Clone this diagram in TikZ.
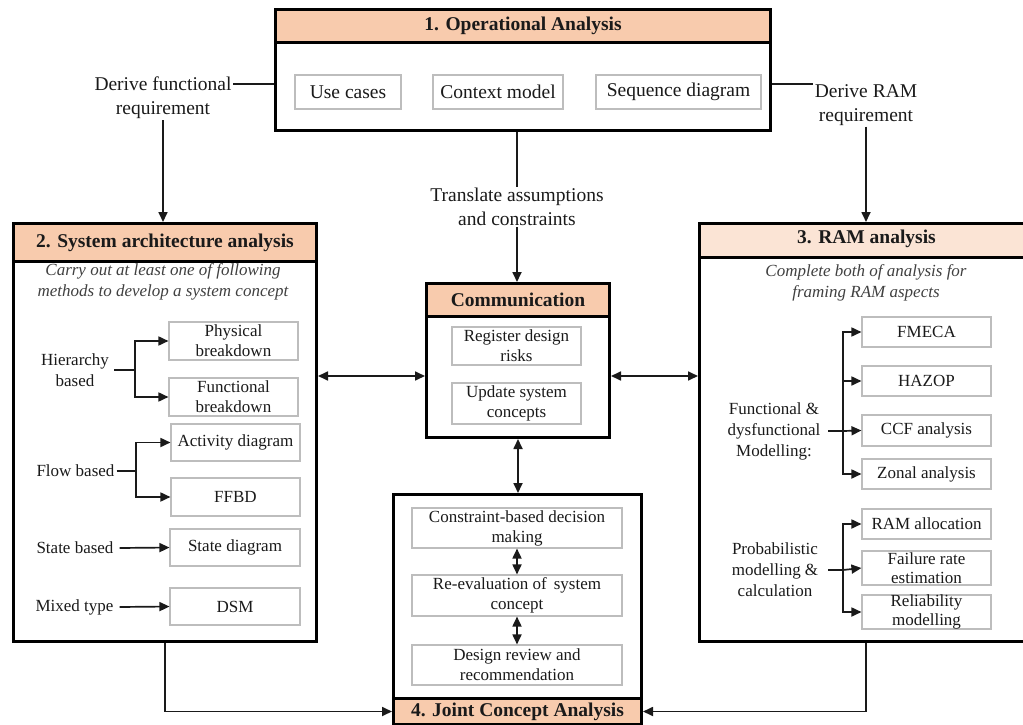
\documentclass[tikz,border=0pt]{standalone}
\usepackage{fontspec}
\setmainfont{Liberation Serif}
\usetikzlibrary{arrows.meta,calc}
\definecolor{peach}{HTML}{F8CBAD}
\definecolor{lpeach}{HTML}{FBE4D5}
\definecolor{ibord}{HTML}{BDBDBD}
\definecolor{txt}{HTML}{1A1A1A}
\begin{document}
\begin{tikzpicture}[x=1pt,y=-1pt,
  outer/.style={draw, line width=3pt, rectangle, inner sep=0pt, anchor=north west},
  hdr/.style={draw, line width=3pt, fill=peach, rectangle, inner sep=0pt, anchor=north west, text=txt, font=\bfseries\fontsize{19.5}{23}\selectfont},
  ibox/.style={draw=ibord, line width=1.1pt, fill=white, rectangle, align=center, inner sep=0pt, text=txt, font=\fontsize{17}{20}\selectfont},
  tbox/.style={ibox, font=\fontsize{19.5}{23}\selectfont},
  lbl/.style={align=center, inner xsep=5pt, inner ysep=0pt, text=txt, font=\fontsize{17}{21}\selectfont},
  biglbl/.style={align=center, inner sep=1pt, text=txt, font=\fontsize{19.5}{24}\selectfont},
  itl/.style={align=center, inner sep=0pt, text=black!75, font=\itshape\fontsize{17}{21}\selectfont},
  ln/.style={line width=1.7pt, draw=txt},
  arr/.style={ln, -{Triangle[length=10pt,width=9pt]}},
  darr/.style={ln, {Triangle[length=10pt,width=9pt]}-{Triangle[length=10pt,width=9pt]}}
]
\useasboundingbox (0,0) rectangle (1023,725);
\clip (0,0) rectangle (1023,725);

% ---------- 1. Operational Analysis ----------
\node[outer, minimum width=495pt, minimum height=121pt] (op) at (274,8) {};
\node[hdr, minimum width=495pt, minimum height=33pt] (opH) at (274,8) {1. Operational Analysis};
\node[tbox, minimum width=106pt, minimum height=34pt] (uc) at (348,92) {Use cases};
\node[tbox, minimum width=130pt, minimum height=34pt] (cm) at (498,92) {Context model};
\node[tbox, minimum width=165pt, minimum height=34pt] (sqd) at (678.5,92) {Sequence diagram};

% ---------- labels between boxes ----------
\node[biglbl] (dfr) at (163,98) {Derive functional\\requirement};
\node[biglbl] (dram) at (866,105) {Derive RAM\\requirement};
\node[biglbl] (tac) at (517,207) {Translate assumptions\\and constraints};
\coordinate (dfE) at (233,84);
\coordinate (drE) at (813,84);

% ---------- 2. System architecture analysis ----------
\node[outer, minimum width=303pt, minimum height=418pt] (sa) at (12,222) {};
\node[hdr, minimum width=303pt, minimum height=38pt] (saH) at (12,222) {2. System architecture analysis};
\node[itl] (saI) at (163,282) {Carry out at least one of following\\methods to develop a system concept};
\node[ibox, minimum width=129pt, minimum height=38pt] (pb) at (233.5,341) {Physical\\breakdown};
\node[ibox, minimum width=129pt, minimum height=38pt] (fb) at (233.5,397) {Functional\\breakdown};
\node[ibox, minimum width=129pt, minimum height=37pt] (ad) at (235.5,442.5) {Activity diagram};
\node[ibox, minimum width=129pt, minimum height=38pt] (ffbd) at (235.5,497) {FFBD};
\node[ibox, minimum width=130pt, minimum height=37pt] (sd) at (235,547.5) {State diagram};
\node[ibox, minimum width=130pt, minimum height=37pt] (dsm) at (235,606.5) {DSM};
\node[lbl] (hb) at (75,370) {Hierarchy\\based};
\node[lbl, inner xsep=2pt] (flb) at (75.5,471) {Flow based};
\node[lbl, inner xsep=6pt] (stb) at (75,548) {State based};
\node[lbl, inner xsep=6pt] (mxt) at (74.5,607) {Mixed type};
\coordinate (hbj) at (135,370);
\coordinate (flj) at (136,471);

% ---------- Communication ----------
\node[outer, minimum width=183pt, minimum height=154pt] (cm2) at (425,282) {};
\node[hdr, minimum width=183pt, minimum height=33pt] (cmH) at (425,282) {Communication};
\node[ibox, minimum width=129pt, minimum height=38pt] (rdr) at (516.5,346) {Register design\\risks};
\node[ibox, minimum width=129pt, minimum height=41pt] (usc) at (516.5,403.5) {Update system\\concepts};
\coordinate (cmid) at (517,376);

% ---------- 4. Joint Concept Analysis ----------
\node[outer, minimum width=248pt, minimum height=230pt] (jc) at (392,493) {};
\node[hdr, minimum width=248pt, minimum height=26pt] (jcH) at (392,697) {4. Joint Concept Analysis};
\node[ibox, minimum width=210pt, minimum height=40pt] (cbd) at (517,528) {Constraint-based decision\\making};
\node[ibox, minimum width=210pt, minimum height=41pt] (rev) at (517,595.5) {Re-evaluation of\, system\\concept};
\node[ibox, minimum width=210pt, minimum height=40pt] (drr) at (517,665) {Design review and\\recommendation};

% ---------- 3. RAM analysis ----------
\node[outer, minimum width=336pt, minimum height=418pt] (ram) at (698,222) {};
\node[hdr, fill=lpeach, minimum width=336pt, minimum height=34pt] (ramH) at (698,222) {\hspace*{0pt}};
\node[text=txt, font=\bfseries\fontsize{19.5}{23}\selectfont] (ramT) at (866.5,239) {3. RAM analysis};
\node[itl] (ramI) at (866,283) {Complete both of analysis for\\framing RAM aspects};
\node[ibox, minimum width=129pt, minimum height=30pt] (fmeca) at (926.5,332) {FMECA};
\node[ibox, minimum width=129pt, minimum height=30pt] (hazop) at (926.5,381) {HAZOP};
\node[ibox, minimum width=129pt, minimum height=31pt] (ccf) at (926.5,430.5) {CCF analysis};
\node[ibox, minimum width=129pt, minimum height=30pt] (zon) at (926.5,474) {Zonal analysis};
\node[ibox, minimum width=129pt, minimum height=30pt] (rama) at (926.5,524) {RAM allocation};
\node[ibox, minimum width=129pt, minimum height=34pt, font=\fontsize{17}{18.5}\selectfont] (fre) at (926.5,568) {Failure rate\\estimation};
\node[ibox, minimum width=129pt, minimum height=34pt, font=\fontsize{17}{18.5}\selectfont] (relm) at (926.5,612) {Reliability\\modelling};
\node[lbl, inner xsep=0pt] (fdm) at (774,431) {Functional \&\\dysfunctional\\Modelling:};
\node[lbl, inner xsep=0pt] (pmc) at (775,570) {Probabilistic\\modelling \&\\calculation};
\coordinate (fdS) at (828,431);
\coordinate (fdj) at (843,431);
\coordinate (pmS) at (828,570);
\coordinate (pmj) at (843,570);

% ---------- connectors ----------
\draw[ln] (op.west |- dfE) -- (dfE);
\draw[arr] (dfr.south) -- (dfr.south |- sa.north);
\draw[ln] (op.east |- drE) -- (drE);
\draw[arr] (dram.south) -- (dram.south |- ram.north);
\draw[ln] (tac.north |- op.south) -- (tac.north);
\draw[arr] (tac.south) -- (tac.south |- cm2.north);

\draw[darr] (cmid -| sa.east) -- (cmid -| cm2.west);
\draw[darr] (cmid -| cm2.east) -- (cmid -| ram.west);
\draw[darr] (cm2.south) -- (cm2.south |- jc.north);

\draw[darr] (cbd.south) -- (rev.north);
\draw[darr] (rev.south) -- (drr.north);

\draw[arr] (sa.south) |- (jcH.west);
\draw[arr] (ram.south -| dram.south) |- (jcH.east);

% left inner
\draw[ln] (hb.east) -- (hbj);
\draw[arr] (hbj) |- (pb.west);
\draw[arr] (hbj) |- (fb.west);
\draw[ln] (flb.east) -- (flj);
\draw[arr] (flj) |- (ad.west);
\draw[arr] (flj) |- (ffbd.west);
\draw[arr] (stb.east) -- (sd.west);
\draw[arr] (mxt.east) -- (dsm.west);

% right inner
\draw[ln] (fdS) -- (fdj);
\draw[arr] (fdj) |- (fmeca.west);
\draw[arr] (fdj) |- (hazop.west);
\draw[arr] (fdj) -- (ccf.west);
\draw[arr] (fdj) |- (zon.west);
\draw[ln] (pmS) -- (pmj);
\draw[arr] (pmj) |- (rama.west);
\draw[arr] (pmj) -- (fre.west);
\draw[arr] (pmj) |- (relm.west);
\end{tikzpicture}
\end{document}
